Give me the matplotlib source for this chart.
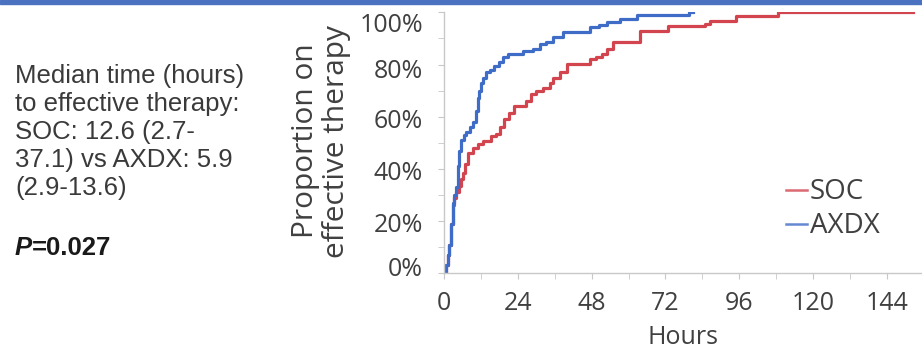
import numpy as np
import matplotlib.pyplot as plt
import matplotlib.transforms as mtransforms
from matplotlib.patches import Rectangle

# Step curves: (hour, % on effective therapy)
soc_hours = [0, 0.7, 1.2, 1.7, 2.3, 2.8, 3.4, 4.0, 5.0, 5.6, 6.1, 6.9, 7.7, 9.3,
             11.0, 12.6, 15.3, 16.9, 18.3, 19.6, 21.2, 22.9, 26.5, 28.3, 30.0,
             32.1, 34.5, 35.4, 37.7, 39.9, 47.5, 49.5, 51.3, 53.0, 55.0, 63.7,
             72.8, 85.0, 86.5, 95.0, 108.7, 152.6]
soc_pct = [0, 3, 7, 11, 19, 26, 29, 31, 33.4, 36, 38.5, 42, 46.2, 48,
           49.5, 50.7, 52.6, 53.3, 56, 59, 61.5, 64, 66, 68.6, 70,
           71, 73, 75, 77, 80.2, 82, 83, 84, 86, 88.5, 93,
           94.6, 95.5, 96.8, 98.5, 100, 100]

axdx_hours = [0, 0.7, 1.2, 1.7, 2.3, 2.8, 3.4, 3.9, 4.4, 5.0, 5.5, 6.5, 7.2, 8.3,
              9.3, 10.4, 11.0, 11.5, 12.0, 12.8, 13.7, 15.0, 16.4, 17.8, 19.1,
              20.7, 25.6, 28.8, 31.2, 33.2, 35.4, 38.7, 47.5, 50.5, 52.9, 57.2,
              62.7, 79.5, 81.0]
axdx_pct = [0, 3, 7, 11, 19, 27, 30, 33, 41, 47, 51, 53, 54, 56,
            58, 62, 67, 70, 73, 75, 77, 78, 79.5, 81, 83,
            84, 85, 86, 88, 88.7, 90.4, 92.4, 94.3, 95.2, 96.2, 97.5,
            98.8, 100, 100]

x_ticks = np.arange(0, 145, 24)
y_ticks = np.arange(0, 101, 20)

note_lines = ["Median time (hours)", "to effective therapy:", "SOC: 12.6 (2.7-",
              "37.1) vs AXDX: 5.9", "(2.9-13.6)"]

red = '#d2454f'
blue = '#3f6cc6'
tick_col = '#404040'
spine_col = '#c8c8c8'

fig = plt.figure(figsize=(9.22, 3.51), dpi=100)
H = 351.0

# blue strip along the top edge
fig.patches.append(Rectangle((0, 1 - 4 / H), 1, 4 / H, transform=fig.transFigure,
                             color='#4a72c0', zorder=5))

ax = fig.add_axes([444 / 922, (H - 273.3) / H, 478 / 922, 261 / H])
ax.step(soc_hours, soc_pct, where='post', color=red, linewidth=2.3, label='SOC')
ax.step(axdx_hours, axdx_pct, where='post', color=blue, linewidth=2.3, label='AXDX')

ax.set_xlim(0, 155.4)
ax.set_ylim(0, 100)
ax.set_xticks(x_ticks)
ax.set_xticks(np.arange(0, 156, 12), minor=True)
ax.set_yticks(y_ticks)
ax.set_yticks(np.arange(0, 101, 10), minor=True)
ax.set_yticklabels([f'{v}%' for v in y_ticks])

for s in ['top', 'right']:
    ax.spines[s].set_visible(False)
for s in ['left', 'bottom']:
    ax.spines[s].set_color(spine_col)
    ax.spines[s].set_linewidth(1.0)

ax.tick_params(which='both', length=4, color=spine_col, direction='out')
ax.tick_params(axis='y', pad=11, labelsize=18, labelcolor=tick_col)
ax.tick_params(axis='x', pad=9, labelsize=18, labelcolor=tick_col)
for lab in ax.get_xticklabels() + ax.get_yticklabels():
    lab.set_family('Open Sans')

# the y labels sit a little squeezed compared to the ticks in the source
label_shift_px = [6.5, -1, -2, -2, -4, -10]
for lab, dy in zip(ax.get_yticklabels(), label_shift_px):
    lab.set_transform(lab.get_transform() +
                      mtransforms.ScaledTranslation(0, dy / 100, fig.dpi_scale_trans))

ax.set_xlabel('Hours', fontsize=18, family='Open Sans', color=tick_col, labelpad=6)

fig.text(321 / 922, 1 - 141 / H, 'Proportion on\neffective therapy', rotation=90,
         ha='center', va='center', multialignment='center', fontsize=21.5,
         family='Open Sans', color=tick_col, linespacing=1.12)

leg = ax.legend(loc='upper left', bbox_to_anchor=(342 / 478, 1 - 166 / 261),
                frameon=False, fontsize=20, handlelength=0.75, handletextpad=0.1,
                labelspacing=0.22, borderaxespad=0, borderpad=0)
for t in leg.get_texts():
    t.set_family('Open Sans')
    t.set_color(tick_col)
for h in leg.get_lines():
    h.set_linewidth(1.8)
    h.set_alpha(0.8)

for i, line in enumerate(note_lines):
    fig.text(15 / 922, 1 - (83 + 28 * i) / H, line, ha='left', va='baseline',
             fontsize=18.5, family='Liberation Sans', color='#3a3a3a')

p = fig.text(15 / 922, 1 - 255 / H, 'P', ha='left', va='baseline', fontsize=18.5,
             family='Liberation Sans', fontweight='bold', fontstyle='italic',
             color='#1a1a1a')
ax.annotate('=0.027', xy=(1, 0), xycoords=p, ha='left', va='bottom',
            fontsize=18.5, family='Liberation Sans', fontweight='bold', color='#1a1a1a')

fig.savefig('out.png', dpi=100)
